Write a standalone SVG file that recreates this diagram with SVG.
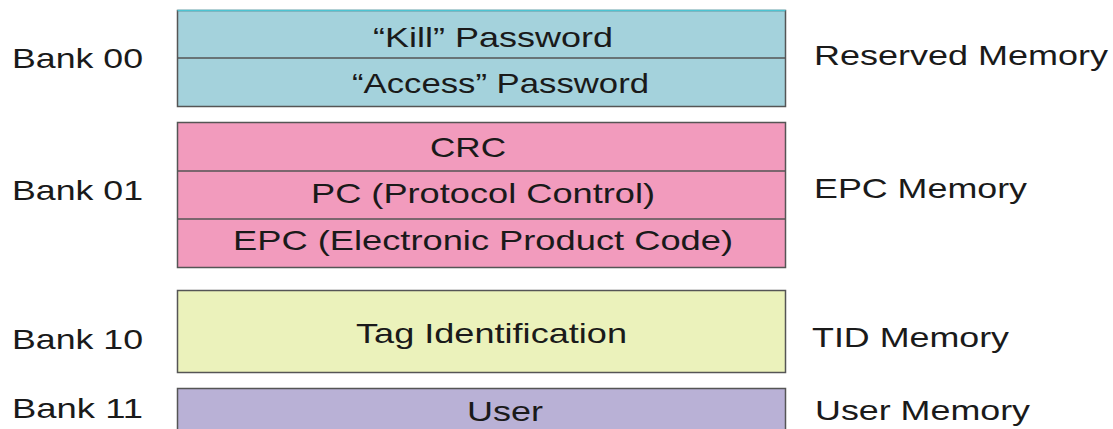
<svg xmlns="http://www.w3.org/2000/svg" width="1113" height="429" viewBox="0 0 1113 429">
<style>
text{font-family:"Liberation Sans",Arial,sans-serif;font-size:28px;fill:#1a1a1a}
.b{stroke:#555;stroke-width:1.5}
.blue{fill:#a4d2dc}
.pink{fill:#f29bbd}
.yel{fill:#ebf2bb}
.pur{fill:#b9b1d6}
</style>
<rect width="1113" height="429" fill="#fff"/>
<g id="bank00">
<rect class="blue b" x="177.5" y="10.5" width="608" height="96"/>
<line x1="177.5" y1="10.5" x2="785.5" y2="10.5" stroke="#4cc4d2" stroke-width="1.5"/>
<line class="b" x1="177.5" y1="58" x2="785.5" y2="58"/>
<text x="373" y="47" textLength="240" lengthAdjust="spacingAndGlyphs">“Kill” Password</text>
<text x="352" y="93" textLength="297" lengthAdjust="spacingAndGlyphs">“Access” Password</text>
<text x="12" y="68" textLength="131" lengthAdjust="spacingAndGlyphs">Bank 00</text>
<text x="814" y="65" textLength="294" lengthAdjust="spacingAndGlyphs">Reserved Memory</text>
</g>
<g id="bank01">
<rect class="pink b" x="177.5" y="122.5" width="608" height="145"/>
<line class="b" x1="177.5" y1="171" x2="785.5" y2="171"/>
<line class="b" x1="177.5" y1="219" x2="785.5" y2="219"/>
<text x="430" y="157" textLength="76" lengthAdjust="spacingAndGlyphs">CRC</text>
<text x="311" y="203" textLength="344" lengthAdjust="spacingAndGlyphs">PC (Protocol Control)</text>
<text x="233" y="250" textLength="500" lengthAdjust="spacingAndGlyphs">EPC (Electronic Product Code)</text>
<text x="12" y="200" textLength="131" lengthAdjust="spacingAndGlyphs">Bank 01</text>
<text x="814" y="198" textLength="213" lengthAdjust="spacingAndGlyphs">EPC Memory</text>
</g>
<g id="bank10">
<rect class="yel b" x="177.5" y="290.5" width="608" height="82"/>
<text x="356" y="343" textLength="271" lengthAdjust="spacingAndGlyphs">Tag Identification</text>
<text x="12" y="349" textLength="131" lengthAdjust="spacingAndGlyphs">Bank 10</text>
<text x="812" y="347" textLength="197" lengthAdjust="spacingAndGlyphs">TID Memory</text>
</g>
<g id="bank11">
<rect class="pur b" x="177.5" y="388.5" width="608" height="60"/>
<text x="467" y="421" textLength="76" lengthAdjust="spacingAndGlyphs">User</text>
<text x="12" y="418" textLength="131" lengthAdjust="spacingAndGlyphs">Bank 11</text>
<text x="815" y="420" textLength="215" lengthAdjust="spacingAndGlyphs">User Memory</text>
</g>
<g id="connectors"></g>
</svg>
